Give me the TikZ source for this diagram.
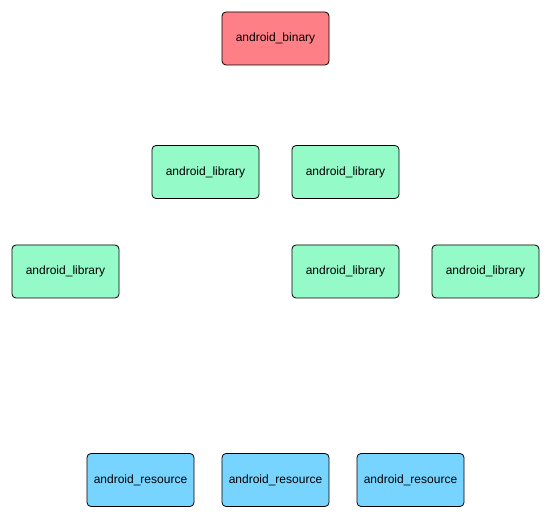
\documentclass[tikz,border=0pt]{standalone}
\usepackage{fontspec}
\setmainfont{Liberation Sans}
\definecolor{binred}{HTML}{FF7F86}
\definecolor{libgreen}{HTML}{94FAC8}
\definecolor{resblue}{HTML}{76D4FF}
\begin{document}
\begin{tikzpicture}[x=1pt,y=-1pt,
  box/.style={draw=black, line width=0.8pt, rounded corners=4pt, minimum width=107pt, minimum height=53pt, inner sep=0pt, font=\fontsize{12}{14}\selectfont},
  binbox/.style={box, fill=binred},
  libbox/.style={box, fill=libgreen},
  resbox/.style={box, fill=resblue}]
\useasboundingbox (0,0) rectangle (550,518);
\node[binbox] (bin) at (275.5,38.5) {android\_binary};
\node[libbox] (l1) at (205.5,172) {android\_library};
\node[libbox] (l2) at (345.5,172) {android\_library};
\node[libbox] (l3) at (65.5,271.5) {android\_library};
\node[libbox] (l4) at (345.5,271.5) {android\_library};
\node[libbox] (l5) at (485.5,271.5) {android\_library};
\node[resbox] (r1) at (140.5,480) {android\_resource};
\node[resbox] (r2) at (275.5,480) {android\_resource};
\node[resbox] (r3) at (410.5,480) {android\_resource};
\end{tikzpicture}
\end{document}
